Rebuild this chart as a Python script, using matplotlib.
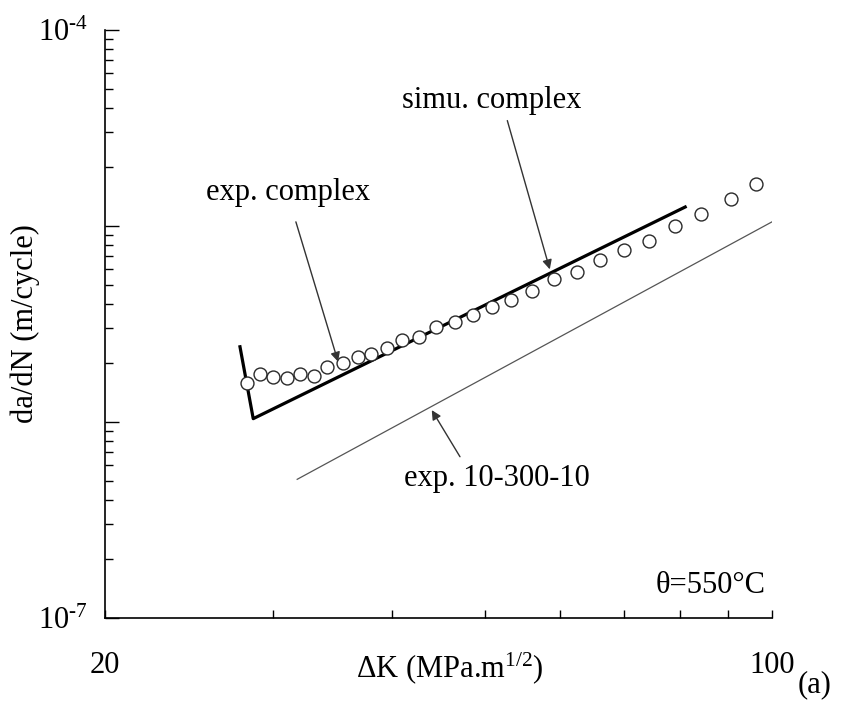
import numpy as np
import matplotlib
matplotlib.use("Agg")
import matplotlib.pyplot as plt
from matplotlib.ticker import NullFormatter

plt.rcParams['font.family'] = ['Liberation Serif', 'DejaVu Serif']
plt.rcParams['mathtext.fontset'] = 'custom'
plt.rcParams['mathtext.rm'] = 'Liberation Serif'
plt.rcParams['mathtext.it'] = 'Liberation Serif:italic'

# exp. complex (open circles)
dk_exp = [28.2, 29.1, 30.0, 31.0, 32.0, 33.1, 34.2, 35.5, 36.8, 38.0, 39.5, 41.0, 42.7, 44.5,
          46.5, 48.6, 50.9, 53.3, 56.1, 59.1, 62.4, 66.1, 70.0, 74.3, 79.1, 84.3, 90.6, 96.1]
dadn_exp = [1.59e-6, 1.76e-6, 1.69e-6, 1.68e-6, 1.76e-6, 1.72e-6, 1.90e-6, 2.01e-6, 2.15e-6,
            2.21e-6, 2.39e-6, 2.62e-6, 2.71e-6, 3.04e-6, 3.25e-6, 3.50e-6, 3.86e-6, 4.18e-6,
            4.66e-6, 5.39e-6, 5.83e-6, 6.68e-6, 7.55e-6, 8.41e-6, 1.00e-5, 1.15e-5, 1.37e-5, 1.64e-5]

# simu. complex (thick line)
dk_sim = [27.7, 28.6, 81.1]
dadn_sim = [2.42e-6, 1.04e-6, 1.25e-5]

# exp. 10-300-10 (thin line)
dk_ref = [31.8, 100.0]
dadn_ref = [5.10e-7, 1.05e-5]

fig = plt.figure(figsize=(8.41, 7.04), dpi=100)
ax = fig.add_axes([105/841, 1-618/704, (772-105)/841, (618-30)/704])

ax.plot(dk_ref, dadn_ref, color='#555555', lw=0.9)
ax.plot(dk_sim, dadn_sim, color='black', lw=2.3)
ax.plot(dk_exp, dadn_exp, 'o', ms=9.3, mfc='white', mec='#2a2a2a', mew=1.0)

ax.set_xscale('log')
ax.set_yscale('log')
ax.set_xlim(20, 100)
ax.set_ylim(1e-7, 1e-4)

for s in ['top', 'right']:
    ax.spines[s].set_visible(False)
for s in ['left', 'bottom']:
    ax.spines[s].set_linewidth(1.2)

ax.set_xticks([20, 100])
ax.set_xticks([30, 40, 50, 60, 70, 80, 90], minor=True)
ax.set_xticklabels(['20', '100'], fontsize=22)
ax.xaxis.set_minor_formatter(NullFormatter())
ax.tick_params(axis='x', which='both', direction='in', length=6, width=1, pad=24)

ax.set_yticks([1e-7, 1e-6, 1e-5, 1e-4])
ax.set_yticklabels([r'$10^{\text{-}7}$', '', '', r'$10^{\text{-}4}$'], fontsize=22)
ax.yaxis.set_minor_formatter(NullFormatter())
ax.tick_params(axis='y', which='major', direction='in', length=10, width=1, pad=12)
ax.tick_params(axis='y', which='minor', direction='in', length=6, width=1)

ax.set_ylabel('da/dN (m/cycle)', fontsize=22)
ax.yaxis.set_label_coords(-0.12, 0.5)
ax.yaxis.label.set_va('center')
ax.set_xlabel(r'$\Delta$K (MPa.m$^{1/2}$)', fontsize=22)
ax.xaxis.set_label_coords(0.517, -0.085)
ax.xaxis.label.set_va('center')

arrow = dict(arrowstyle='-|>', color='#333333', lw=1.0, mutation_scale=14,
             shrinkA=0, shrinkB=0)
ax.text(31.1, 1.49e-5, 'exp. complex', fontsize=22, ha='center', va='center')
ax.annotate('', xy=(35.1, 2.03e-6), xytext=(31.7, 1.05e-5), arrowprops=arrow)
ax.text(50.8, 4.39e-5, 'simu. complex', fontsize=22, ha='center', va='center')
ax.annotate('', xy=(58.5, 6.01e-6), xytext=(52.8, 3.45e-5), arrowprops=arrow)
ax.text(51.5, 5.12e-7, 'exp. 10-300-10', fontsize=22, ha='center', va='center')
ax.annotate('', xy=(44.0, 1.15e-6), xytext=(47.1, 6.65e-7), arrowprops=arrow)
ax.text(0.9085, 0.056, 'θ=550°C', transform=ax.transAxes, fontsize=22,
        ha='center', va='center')
fig.text(815/841, 1-685/704, '(a)', fontsize=22, ha='center', va='center')

fig.savefig('out.png', dpi=100)
